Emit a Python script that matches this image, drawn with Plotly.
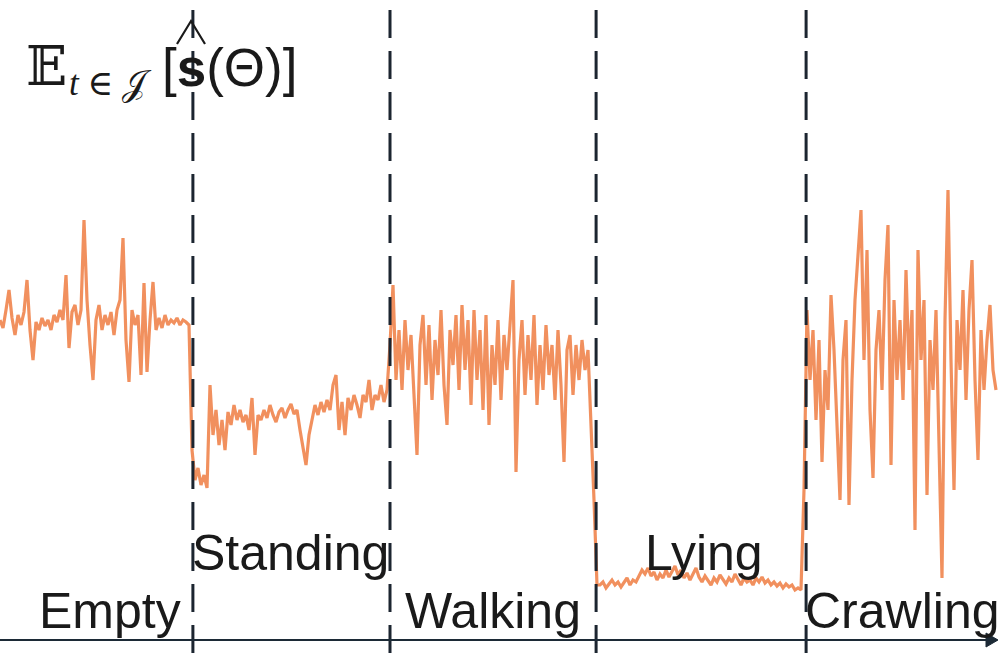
import numpy as np
import plotly.graph_objects as go

# ---- data: expected score per time sample, grouped by activity segment ----
empty_vals = [3.20, 3.12, 3.30, 3.50, 3.22, 3.05, 3.25, 3.15, 3.28, 3.60, 3.10, 2.80, 3.18, 3.10, 3.22, 3.14,
              3.20, 3.10, 3.25, 3.18, 3.30, 3.20, 3.65, 2.92, 3.28, 3.35, 3.15, 3.30, 4.20, 3.40, 2.95, 2.60,
              3.20, 3.35, 3.10, 3.25, 3.15, 3.28, 3.05, 3.30, 3.40, 4.02, 3.00, 2.58, 3.30, 3.15, 3.25, 2.65,
              3.57, 2.68, 3.20, 3.58, 3.10, 3.22, 3.12, 3.25, 3.15, 3.20, 3.17, 3.22, 3.15, 3.20, 3.18, 3.15]
standing_vals = [1.90, 1.60, 1.72, 1.55, 1.65, 1.52, 2.55, 2.05, 2.30, 1.95, 2.20, 1.90, 2.28, 2.15, 2.35, 2.20,
                 2.30, 2.18, 2.25, 2.10, 2.42, 1.85, 2.25, 2.20, 2.30, 2.22, 2.35, 2.25, 2.18, 2.28, 2.32, 2.22,
                 2.30, 2.36, 2.26, 2.30, 2.10, 1.90, 1.75, 2.05, 2.20, 2.35, 2.25, 2.38, 2.28, 2.40, 2.30, 2.55,
                 2.65, 2.10, 2.38, 2.05, 2.42, 2.30, 2.45, 2.35, 2.22, 2.45, 2.38, 2.60, 2.30, 2.45, 2.40, 2.55,
                 2.38, 2.50]
walking_vals = [2.95, 3.55, 2.60, 3.10, 2.50, 3.20, 2.70, 3.05, 2.45, 1.85, 2.95, 3.25, 2.55, 3.15, 2.40, 3.00,
                2.65, 3.30, 2.55, 2.15, 3.10, 2.75, 3.25, 2.50, 3.35, 2.70, 3.20, 2.35, 3.30, 2.60, 3.10, 2.30,
                3.25, 2.15, 2.95, 2.55, 3.20, 2.40, 3.05, 2.70, 3.15, 3.60, 1.68, 2.80, 3.20, 2.45, 3.05, 2.60,
                3.25, 2.35, 2.95, 2.50, 3.15, 2.65, 2.95, 2.40, 3.10, 2.55, 1.78, 2.90, 3.05, 2.45, 2.95, 2.60,
                3.00, 2.70, 2.90, 2.20]
lying_vals = [1.40, 0.55, 0.55, 0.58, 0.52, 0.56, 0.60, 0.55, 0.58, 0.53, 0.57, 0.62, 0.55, 0.60, 0.58, 0.64,
              0.70, 0.66, 0.72, 0.64, 0.68, 0.60, 0.66, 0.62, 0.70, 0.63, 0.68, 0.74, 0.65, 0.70, 0.62, 0.67,
              0.60, 0.66, 0.72, 0.63, 0.58, 0.64, 0.60, 0.55, 0.62, 0.58, 0.65, 0.60, 0.56, 0.62, 0.58, 0.66,
              0.60, 0.55, 0.62, 0.58, 0.60, 0.55, 0.62, 0.58, 0.63, 0.57, 0.60, 0.55, 0.58, 0.54, 0.57, 0.52,
              0.56, 0.53, 0.55, 0.50, 0.52, 0.50]
crawling_vals = [1.50, 3.30, 2.60, 3.10, 2.20, 3.00, 1.78, 2.70, 2.30, 3.45, 2.90, 2.10, 1.40, 2.80, 3.20, 1.35,
                 2.60, 3.40, 3.80, 4.30, 2.80, 3.90, 2.30, 1.62, 2.90, 3.30, 2.50, 3.60, 4.15, 1.75, 3.40, 2.60,
                 3.20, 2.40, 3.70, 2.70, 3.30, 1.10, 3.90, 2.80, 3.40, 1.45, 3.00, 2.50, 3.30, 2.00, 0.62, 3.20,
                 4.50, 2.80, 1.50, 3.20, 2.70, 3.50, 2.40, 3.30, 3.80, 2.60, 1.80, 3.10, 2.50, 3.00, 3.35, 2.70,
                 2.50]

segment_labels = ["Empty", "Standing", "Walking", "Lying", "Crawling"]
boundaries = [64.3, 130.0, 198.7, 268.7]   # activity change times (sample index)

score = empty_vals + standing_vals + walking_vals + lying_vals + crawling_vals
t = np.arange(len(score))

X_RANGE = [0, 333]
Y_RANGE = [-0.13, 6.4]
W, H = 999, 653

fig = go.Figure()
fig.add_trace(go.Scatter(x=t, y=score, mode="lines",
                         line=dict(color="rgba(240,132,76,0.9)", width=3.2),
                         hoverinfo="skip", showlegend=False))

# dashed segment boundaries
for b in boundaries:
    fig.add_shape(type="line", x0=b, x1=b, y0=0, y1=1, xref="x", yref="paper",
                  line=dict(color="#1c2530", width=3, dash="28px,13px"))

def px(xp):
    return xp / W

def py(yp):
    return 1 - yp / H

# time axis line with arrowhead (y = 0)
axis_col = "#1c2a36"
fig.add_shape(type="line", xref="paper", yref="y", x0=0, x1=px(997), y0=0, y1=0,
              line=dict(color=axis_col, width=2.2))
fig.add_shape(type="path", xref="paper", yref="paper",
              path=f"M {px(986)} {py(633)} L {px(998)} {py(640)} L {px(986)} {py(647)} Z",
              fillcolor=axis_col, line=dict(color=axis_col, width=1))

label_font = dict(family="Liberation Sans, Arial, sans-serif", size=50, color="#1a1a1a")
label_pos = [(37, 611), (190, 553), (403, 611), (643, 553), (803, 611)]
for lab, (lx, ly) in zip(segment_labels, label_pos):
    fig.add_annotation(x=px(lx), y=py(ly), xref="paper", yref="paper", text=lab,
                       showarrow=False, xanchor="left", yanchor="middle", font=label_font)

# title: E_{t in J}[ s^(Theta) ]
fig.add_annotation(x=px(25), y=py(66), xref="paper", yref="paper", text="𝔼",
                   showarrow=False, xanchor="left", yanchor="middle", borderpad=0,
                   font=dict(family="DejaVu Serif, serif", size=54, color="#1a1a1a"))
fig.add_annotation(x=px(68), y=py(84), xref="paper", yref="paper",
                   text="<i>t</i> ∈ 𝒥", showarrow=False, xanchor="left", yanchor="middle",
                   borderpad=0,
                   font=dict(family="Liberation Serif, DejaVu Serif, serif", size=35, color="#1a1a1a"))
fig.add_annotation(x=px(161), y=py(68), xref="paper", yref="paper",
                   text="[<b>s</b>(Θ)]", showarrow=False, xanchor="left", yanchor="middle",
                   borderpad=0,
                   font=dict(family="Liberation Sans, Arial, sans-serif", size=53, color="#1a1a1a"))
# hat over the s
fig.add_shape(type="path", xref="paper", yref="paper",
              path=f"M {px(177)} {py(44)} L {px(191)} {py(21)} L {px(205)} {py(44)}",
              line=dict(color="#1a1a1a", width=2.2))

fig.update_layout(width=W, height=H, margin=dict(l=0, r=0, t=0, b=0),
                  paper_bgcolor="white", plot_bgcolor="white",
                  xaxis=dict(range=X_RANGE, visible=False, fixedrange=True),
                  yaxis=dict(range=Y_RANGE, visible=False, fixedrange=True))

fig.write_html("out.html", config={"displayModeBar": False},
               post_script="document.body.style.margin='0';")
